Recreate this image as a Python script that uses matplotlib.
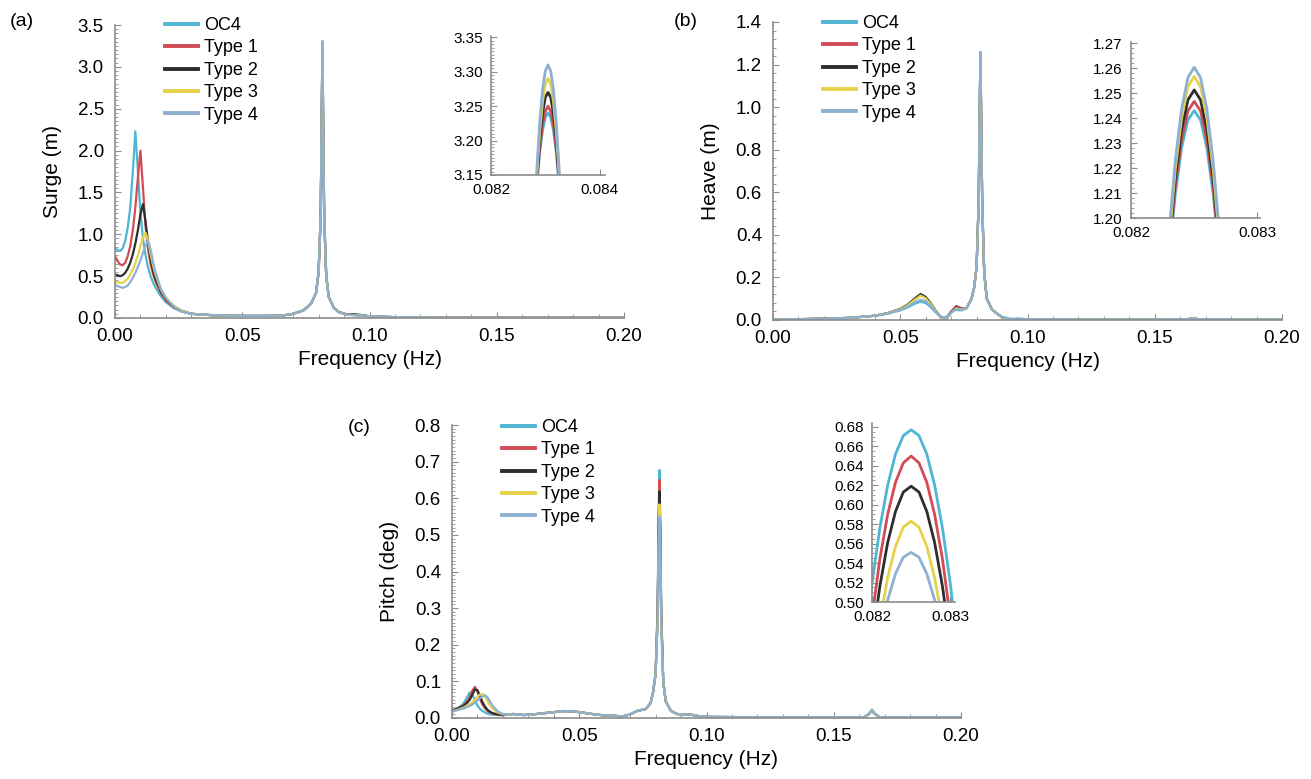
#!/usr/bin/env python3
"""
Surge / heave / pitch response spectra of the OC4 platform and four
modified platform types, each with a zoom inset on the wave peak.
Output: out.png (1311 x 779 px)
"""

import matplotlib
import matplotlib.pyplot as plt
import matplotlib.ticker as ticker

matplotlib.use("Agg")

plt.rcParams["font.family"] = ["Liberation Sans", "DejaVu Sans"]

LABELS = ["OC4", "Type 1", "Type 2", "Type 3", "Type 4"]
COLORS = ["#4db6d3", "#d24b55", "#2e2e2e", "#e6d24a", "#8db0d3"]

# ---------------------------------------------------------------- (a) surge
SURGE_FREQ = [0.000, 0.001, 0.002, 0.003, 0.004, 0.005, 0.006, 0.007, 0.008,
              0.009, 0.010, 0.011, 0.012, 0.013, 0.014, 0.015, 0.016,
              0.018, 0.020, 0.023, 0.026, 0.030, 0.040, 0.050, 0.060, 0.066,
              0.070, 0.074, 0.077, 0.079, 0.080, 0.0808, 0.0812, 0.0815,
              0.0818, 0.0822, 0.083, 0.084, 0.086, 0.088, 0.091, 0.094, 0.097,
              0.100, 0.110, 0.130, 0.160, 0.200]
SURGE_OC4 = [0.84, 0.81, 0.80, 0.83, 0.92, 1.08, 1.32, 1.75, 2.23,
             1.75, 1.25, 0.95, 0.75, 0.60, 0.50, 0.42, 0.36,
             0.26, 0.19, 0.12, 0.08, 0.05, 0.03, 0.025, 0.025, 0.03,
             0.05, 0.09, 0.17, 0.30, 0.55, 1.20, 2.30, 3.24,
             2.35, 1.20, 0.50, 0.25, 0.12, 0.07, 0.04, 0.035, 0.03,
             0.02, 0.01, 0.005, 0.004, 0.003]
SURGE_T1 = [0.74, 0.68, 0.64, 0.63, 0.66, 0.74, 0.86, 1.05, 1.32,
            1.68, 2.00, 1.55, 1.10, 0.82, 0.64, 0.52, 0.43,
            0.30, 0.21, 0.13, 0.08, 0.05, 0.03, 0.025, 0.025, 0.03,
            0.05, 0.09, 0.17, 0.30, 0.55, 1.20, 2.30, 3.25,
            2.35, 1.20, 0.50, 0.25, 0.12, 0.07, 0.04, 0.035, 0.03,
            0.02, 0.01, 0.005, 0.004, 0.003]
SURGE_T2 = [0.52, 0.51, 0.50, 0.51, 0.54, 0.59, 0.66, 0.76, 0.89,
            1.05, 1.24, 1.36, 1.15, 0.90, 0.70, 0.56, 0.46,
            0.32, 0.23, 0.14, 0.09, 0.05, 0.03, 0.025, 0.025, 0.03,
            0.05, 0.09, 0.17, 0.30, 0.55, 1.20, 2.30, 3.27,
            2.35, 1.20, 0.50, 0.25, 0.12, 0.07, 0.045, 0.045, 0.035,
            0.02, 0.01, 0.005, 0.004, 0.003]
SURGE_T3 = [0.44, 0.43, 0.42, 0.42, 0.44, 0.47, 0.52, 0.58, 0.66,
            0.75, 0.86, 0.96, 1.02, 0.92, 0.76, 0.62, 0.51,
            0.34, 0.24, 0.15, 0.09, 0.05, 0.03, 0.025, 0.025, 0.03,
            0.05, 0.09, 0.17, 0.30, 0.55, 1.20, 2.30, 3.29,
            2.35, 1.20, 0.50, 0.25, 0.12, 0.07, 0.04, 0.035, 0.03,
            0.02, 0.01, 0.005, 0.004, 0.003]
SURGE_T4 = [0.40, 0.38, 0.37, 0.36, 0.37, 0.39, 0.43, 0.48, 0.54,
            0.61, 0.69, 0.78, 0.87, 0.92, 0.82, 0.66, 0.54,
            0.35, 0.24, 0.14, 0.08, 0.05, 0.03, 0.025, 0.025, 0.03,
            0.05, 0.09, 0.17, 0.30, 0.55, 1.20, 2.30, 3.31,
            2.35, 1.20, 0.50, 0.25, 0.12, 0.07, 0.04, 0.035, 0.03,
            0.02, 0.01, 0.005, 0.004, 0.003]

SURGE_ZOOM_FREQ = [0.08280, 0.08285, 0.08290, 0.08295, 0.08300, 0.08305,
                   0.08310, 0.08315, 0.08320, 0.08325, 0.08330]
SURGE_ZOOM_OC4 = [3.085, 3.141, 3.185, 3.215, 3.234, 3.240,
                  3.234, 3.215, 3.185, 3.141, 3.085]
SURGE_ZOOM_T1 = [3.086, 3.145, 3.191, 3.224, 3.243, 3.250,
                 3.243, 3.224, 3.191, 3.145, 3.086]
SURGE_ZOOM_T2 = [3.083, 3.150, 3.203, 3.240, 3.263, 3.270,
                 3.263, 3.240, 3.203, 3.150, 3.083]
SURGE_ZOOM_T3 = [3.082, 3.157, 3.215, 3.257, 3.282, 3.290,
                 3.282, 3.257, 3.215, 3.157, 3.082]
SURGE_ZOOM_T4 = [3.083, 3.165, 3.228, 3.274, 3.301, 3.310,
                 3.301, 3.274, 3.228, 3.165, 3.083]

# ---------------------------------------------------------------- (b) heave
HEAVE_FREQ = [0.000, 0.010, 0.020, 0.030, 0.040, 0.045, 0.050, 0.053, 0.056,
              0.058, 0.060, 0.062, 0.064, 0.066, 0.068, 0.070, 0.072, 0.074,
              0.076, 0.078, 0.079, 0.080, 0.0808, 0.0812, 0.0815, 0.0818,
              0.0822, 0.083, 0.084, 0.086, 0.088, 0.090, 0.093, 0.096, 0.100,
              0.120, 0.150, 0.163, 0.165, 0.167, 0.180, 0.200]
HEAVE_OC4 = [0.003, 0.004, 0.006, 0.010, 0.020, 0.030, 0.045, 0.060, 0.078,
             0.086, 0.080, 0.060, 0.035, 0.015, 0.012, 0.040, 0.048, 0.045,
             0.055, 0.10, 0.15, 0.25, 0.55, 0.95, 1.243, 0.95,
             0.55, 0.22, 0.10, 0.05, 0.03, 0.015, 0.006, 0.005, 0.004,
             0.003, 0.003, 0.004, 0.008, 0.004, 0.003, 0.003]
HEAVE_T1 = [0.003, 0.004, 0.006, 0.010, 0.020, 0.032, 0.050, 0.070, 0.100,
            0.118, 0.105, 0.075, 0.040, 0.012, 0.002, 0.040, 0.066, 0.055,
            0.055, 0.10, 0.15, 0.25, 0.55, 0.96, 1.247, 0.96,
            0.55, 0.22, 0.10, 0.05, 0.03, 0.012, 0.002, 0.005, 0.004,
            0.003, 0.003, 0.004, 0.008, 0.004, 0.003, 0.003]
HEAVE_T2 = [0.003, 0.004, 0.006, 0.010, 0.020, 0.032, 0.052, 0.073, 0.104,
            0.122, 0.108, 0.078, 0.042, 0.013, 0.003, 0.035, 0.060, 0.052,
            0.055, 0.10, 0.15, 0.25, 0.55, 0.96, 1.251, 0.96,
            0.55, 0.22, 0.10, 0.05, 0.03, 0.012, 0.003, 0.005, 0.004,
            0.003, 0.003, 0.004, 0.008, 0.004, 0.003, 0.003]
HEAVE_T3 = [0.003, 0.004, 0.006, 0.010, 0.020, 0.032, 0.050, 0.070, 0.098,
            0.115, 0.102, 0.074, 0.040, 0.013, 0.004, 0.033, 0.056, 0.050,
            0.055, 0.10, 0.15, 0.25, 0.55, 0.96, 1.257, 0.96,
            0.55, 0.22, 0.10, 0.05, 0.03, 0.012, 0.003, 0.005, 0.004,
            0.003, 0.003, 0.004, 0.008, 0.004, 0.003, 0.003]
HEAVE_T4 = [0.003, 0.004, 0.006, 0.010, 0.020, 0.031, 0.047, 0.064, 0.085,
            0.095, 0.088, 0.066, 0.038, 0.014, 0.008, 0.035, 0.052, 0.048,
            0.055, 0.10, 0.15, 0.25, 0.55, 0.96, 1.260, 0.96,
            0.55, 0.22, 0.10, 0.05, 0.03, 0.014, 0.005, 0.005, 0.004,
            0.003, 0.003, 0.004, 0.008, 0.004, 0.003, 0.003]

HEAVE_ZOOM_FREQ = [0.08225, 0.08230, 0.08235, 0.08240, 0.08245, 0.08250,
                   0.08255, 0.08260, 0.08265, 0.08270, 0.08275]
HEAVE_ZOOM_OC4 = [1.150, 1.1835, 1.2095, 1.2281, 1.2393, 1.2430,
                  1.2393, 1.2281, 1.2095, 1.1835, 1.150]
HEAVE_ZOOM_T1 = [1.151, 1.1857, 1.2124, 1.2314, 1.2429, 1.2467,
                 1.2429, 1.2314, 1.2124, 1.1857, 1.151]
HEAVE_ZOOM_T2 = [1.152, 1.1880, 1.2157, 1.2355, 1.2473, 1.2513,
                 1.2473, 1.2355, 1.2157, 1.1880, 1.152]
HEAVE_ZOOM_T3 = [1.153, 1.1904, 1.2194, 1.2401, 1.2526, 1.2567,
                 1.2526, 1.2401, 1.2194, 1.1904, 1.153]
HEAVE_ZOOM_T4 = [1.156, 1.1935, 1.2228, 1.2437, 1.2562, 1.2604,
                 1.2562, 1.2437, 1.2228, 1.1935, 1.156]

# ---------------------------------------------------------------- (c) pitch
PITCH_FREQ = [0.000, 0.002, 0.004, 0.005, 0.006, 0.007, 0.008, 0.009, 0.010,
              0.011, 0.012, 0.013, 0.014, 0.015, 0.016, 0.018, 0.020, 0.022,
              0.024, 0.026, 0.028, 0.032, 0.036, 0.040, 0.044, 0.048, 0.052,
              0.056, 0.060, 0.064, 0.067, 0.070, 0.073, 0.076, 0.078, 0.079,
              0.080, 0.0808, 0.0812, 0.0815, 0.0818, 0.0822, 0.083, 0.084,
              0.086, 0.088, 0.090, 0.092, 0.094, 0.097, 0.100, 0.120, 0.150,
              0.162, 0.164, 0.165, 0.166, 0.168, 0.180, 0.200]
PITCH_OC4 = [0.020, 0.026, 0.036, 0.045, 0.058, 0.070, 0.064, 0.048, 0.034,
             0.025, 0.019, 0.015, 0.012, 0.010, 0.009, 0.008, 0.008, 0.009,
             0.011, 0.010, 0.008, 0.010, 0.013, 0.016, 0.019, 0.018, 0.014,
             0.010, 0.007, 0.006, 0.004, 0.010, 0.020, 0.024, 0.040, 0.070,
             0.12, 0.30, 0.55, 0.677, 0.55, 0.30, 0.10, 0.045,
             0.020, 0.012, 0.008, 0.010, 0.009, 0.005, 0.003, 0.002, 0.002,
             0.002, 0.012, 0.022, 0.012, 0.002, 0.002, 0.002]
PITCH_T1 = [0.020, 0.025, 0.032, 0.038, 0.046, 0.058, 0.075, 0.085, 0.072,
            0.052, 0.036, 0.026, 0.019, 0.015, 0.012, 0.009, 0.008, 0.009,
            0.011, 0.010, 0.008, 0.010, 0.013, 0.016, 0.019, 0.018, 0.014,
            0.010, 0.007, 0.006, 0.004, 0.010, 0.020, 0.024, 0.040, 0.070,
            0.12, 0.29, 0.53, 0.650, 0.53, 0.29, 0.10, 0.045,
            0.020, 0.012, 0.008, 0.010, 0.009, 0.005, 0.003, 0.002, 0.002,
            0.002, 0.012, 0.022, 0.012, 0.002, 0.002, 0.002]
PITCH_T2 = [0.020, 0.025, 0.031, 0.036, 0.042, 0.050, 0.064, 0.078, 0.076,
            0.060, 0.043, 0.031, 0.022, 0.017, 0.013, 0.010, 0.008, 0.009,
            0.011, 0.010, 0.008, 0.010, 0.013, 0.016, 0.019, 0.018, 0.014,
            0.010, 0.007, 0.006, 0.004, 0.010, 0.020, 0.024, 0.040, 0.070,
            0.12, 0.28, 0.51, 0.619, 0.51, 0.28, 0.10, 0.045,
            0.020, 0.012, 0.008, 0.010, 0.009, 0.005, 0.003, 0.002, 0.002,
            0.002, 0.012, 0.022, 0.012, 0.002, 0.002, 0.002]
PITCH_T3 = [0.018, 0.022, 0.027, 0.030, 0.034, 0.038, 0.043, 0.050, 0.058,
            0.064, 0.066, 0.058, 0.045, 0.034, 0.025, 0.015, 0.010, 0.009,
            0.011, 0.010, 0.008, 0.010, 0.013, 0.016, 0.019, 0.018, 0.014,
            0.010, 0.007, 0.006, 0.004, 0.010, 0.020, 0.024, 0.040, 0.070,
            0.12, 0.27, 0.48, 0.583, 0.48, 0.27, 0.10, 0.045,
            0.020, 0.012, 0.008, 0.010, 0.009, 0.005, 0.003, 0.002, 0.002,
            0.002, 0.012, 0.022, 0.012, 0.002, 0.002, 0.002]
PITCH_T4 = [0.017, 0.021, 0.025, 0.027, 0.030, 0.033, 0.037, 0.042, 0.048,
            0.054, 0.059, 0.062, 0.056, 0.044, 0.033, 0.018, 0.011, 0.009,
            0.011, 0.010, 0.008, 0.010, 0.013, 0.016, 0.019, 0.018, 0.014,
            0.010, 0.007, 0.006, 0.004, 0.010, 0.020, 0.024, 0.040, 0.070,
            0.12, 0.26, 0.46, 0.551, 0.46, 0.26, 0.10, 0.045,
            0.020, 0.012, 0.008, 0.010, 0.009, 0.005, 0.003, 0.002, 0.002,
            0.002, 0.012, 0.022, 0.012, 0.002, 0.002, 0.002]

PITCH_ZOOM_FREQ = [0.0819, 0.0820, 0.0821, 0.0822, 0.0823, 0.0824, 0.0825,
                   0.0826, 0.0827, 0.0828, 0.0829, 0.0830, 0.0831]
PITCH_ZOOM_OC4 = [0.450, 0.519, 0.576, 0.620, 0.652, 0.671, 0.677,
                  0.671, 0.652, 0.620, 0.576, 0.519, 0.450]
PITCH_ZOOM_T1 = [0.411, 0.484, 0.544, 0.590, 0.623, 0.643, 0.650,
                 0.643, 0.623, 0.590, 0.544, 0.484, 0.411]
PITCH_ZOOM_T2 = [0.387, 0.458, 0.516, 0.561, 0.593, 0.613, 0.619,
                 0.613, 0.593, 0.561, 0.516, 0.458, 0.387]
PITCH_ZOOM_T3 = [0.350, 0.423, 0.480, 0.525, 0.557, 0.577, 0.583,
                 0.577, 0.557, 0.525, 0.480, 0.423, 0.350]
PITCH_ZOOM_T4 = [0.350, 0.414, 0.463, 0.502, 0.529, 0.546, 0.551,
                 0.546, 0.529, 0.502, 0.463, 0.414, 0.350]

SPINE_COLOR = "#8c8c8c"
W, H = 1311, 779


def px_axes(fig, left, top, right, bottom):
    """Axes from pixel box (image coordinates, y down)."""
    return fig.add_axes([left / W, 1 - bottom / H, (right - left) / W, (bottom - top) / H])


def style(ax, tick_size, ypad, xpad):
    for side in ("top", "right"):
        ax.spines[side].set_visible(False)
    for side in ("left", "bottom"):
        ax.spines[side].set_color(SPINE_COLOR)
        ax.spines[side].set_linewidth(1.2)
    ax.tick_params(which="both", direction="in", colors=SPINE_COLOR,
                   labelcolor="black", labelsize=tick_size)
    ax.tick_params(axis="y", which="major", length=4, pad=ypad)
    ax.tick_params(axis="y", which="minor", length=2.5)
    ax.tick_params(axis="x", which="major", length=4, pad=xpad)
    ax.tick_params(axis="x", which="minor", length=3)


def main_panel(ax, freq, series, ymax, ystep, yminor, ylabel):
    for vals, lbl, col in zip(series, LABELS, COLORS):
        ax.plot(freq, vals, color=col, linewidth=1.6, label=lbl)
    ax.set_xlim(0, 0.2)
    ax.set_ylim(0, ymax)
    ax.xaxis.set_major_locator(ticker.MultipleLocator(0.05))
    ax.xaxis.set_minor_locator(ticker.MultipleLocator(0.01))
    ax.xaxis.set_major_formatter(ticker.FormatStrFormatter("%.2f"))
    ax.yaxis.set_major_locator(ticker.MultipleLocator(ystep))
    ax.yaxis.set_minor_locator(ticker.MultipleLocator(yminor))
    ax.yaxis.set_major_formatter(ticker.FormatStrFormatter("%.1f"))
    style(ax, 13.5, 8, 7)
    ax.set_xlabel("Frequency (Hz)", fontsize=15, labelpad=4)
    ax.set_ylabel(ylabel, fontsize=15, labelpad=11)


def legend(fig, ax, x_px, y_px):
    leg = ax.legend(loc="upper left", bbox_to_anchor=(x_px / W, 1 - y_px / H),
                    bbox_transform=fig.transFigure, frameon=False, fontsize=13,
                    borderpad=0, borderaxespad=0, labelspacing=0.3,
                    handlelength=1.85, handletextpad=0.3)
    for line in leg.get_lines():
        line.set_linewidth(2.8)


def inset(ax, freq, series, xlim, ylim, xticks, yticks, yminor):
    for vals, col in zip(series, COLORS):
        ax.plot(freq, vals, color=col, linewidth=2.0)
    ax.set_xlim(*xlim)
    ax.set_ylim(*ylim)
    ax.set_xticks(xticks)
    ax.xaxis.set_major_formatter(ticker.FormatStrFormatter("%.3f"))
    ax.set_yticks(yticks)
    ax.yaxis.set_minor_locator(ticker.MultipleLocator(yminor))
    ax.yaxis.set_major_formatter(ticker.FormatStrFormatter("%.2f"))
    style(ax, 11, 6, 6)
    ax.patch.set_alpha(0)


fig = plt.figure(figsize=(W / 100, H / 100), dpi=100)

# (a) surge
ax_a = px_axes(fig, 115, 25, 624, 318)
main_panel(ax_a, SURGE_FREQ, [SURGE_OC4, SURGE_T1, SURGE_T2, SURGE_T3, SURGE_T4],
           3.5, 0.5, 0.05, "Surge (m)")
legend(fig, ax_a, 165, 17)
ins_a = px_axes(fig, 491, 36, 605, 175)
inset(ins_a, SURGE_ZOOM_FREQ,
      [SURGE_ZOOM_OC4, SURGE_ZOOM_T1, SURGE_ZOOM_T2, SURGE_ZOOM_T3, SURGE_ZOOM_T4],
      (0.082, 0.0841), (3.15, 3.352), [0.082, 0.084],
      [3.15, 3.20, 3.25, 3.30, 3.35], 0.005)
fig.text(22 / W, 1 - 22 / H, "(a)", fontsize=14, ha="center", va="center")

# (b) heave
ax_b = px_axes(fig, 773, 22, 1282, 320)
main_panel(ax_b, HEAVE_FREQ, [HEAVE_OC4, HEAVE_T1, HEAVE_T2, HEAVE_T3, HEAVE_T4],
           1.4, 0.2, 0.04, "Heave (m)")
legend(fig, ax_b, 823, 15)
ins_b = px_axes(fig, 1131, 42, 1260, 218)
inset(ins_b, HEAVE_ZOOM_FREQ,
      [HEAVE_ZOOM_OC4, HEAVE_ZOOM_T1, HEAVE_ZOOM_T2, HEAVE_ZOOM_T3, HEAVE_ZOOM_T4],
      (0.082, 0.08302), (1.20, 1.2705), [0.082, 0.083],
      [1.20, 1.21, 1.22, 1.23, 1.24, 1.25, 1.26, 1.27], 0.002)
fig.text(686 / W, 1 - 22 / H, "(b)", fontsize=14, ha="center", va="center")

# (c) pitch
ax_c = px_axes(fig, 452, 425, 961, 718)
main_panel(ax_c, PITCH_FREQ, [PITCH_OC4, PITCH_T1, PITCH_T2, PITCH_T3, PITCH_T4],
           0.8, 0.1, 0.01, "Pitch (deg)")
legend(fig, ax_c, 502, 419)
ins_c = px_axes(fig, 872, 423, 955, 602)
inset(ins_c, PITCH_ZOOM_FREQ,
      [PITCH_ZOOM_OC4, PITCH_ZOOM_T1, PITCH_ZOOM_T2, PITCH_ZOOM_T3, PITCH_ZOOM_T4],
      (0.082, 0.08306), (0.50, 0.684), [0.082, 0.083],
      [0.50, 0.52, 0.54, 0.56, 0.58, 0.60, 0.62, 0.64, 0.66, 0.68], 0.005)
fig.text(359 / W, 1 - 428 / H, "(c)", fontsize=14, ha="center", va="center")

fig.savefig("out.png", dpi=100)
plt.close(fig)
